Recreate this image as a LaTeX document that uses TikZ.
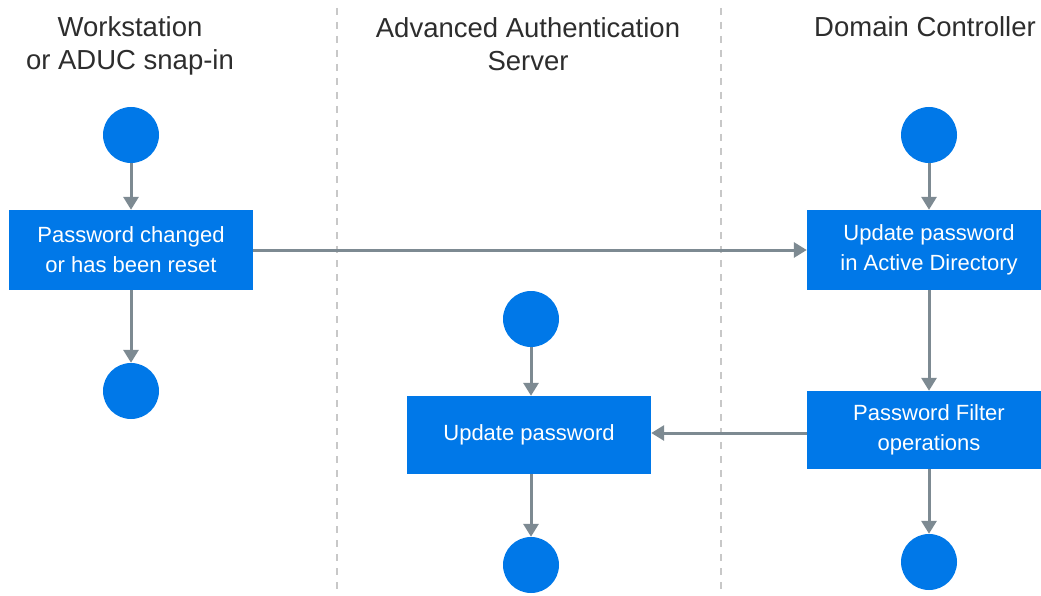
\documentclass[tikz,border=0pt]{standalone}
\usepackage{fontspec}
\setmainfont{Liberation Sans}
\usetikzlibrary{arrows.meta}
\definecolor{actblue}{RGB}{0,120,232}
\definecolor{flowgray}{RGB}{125,138,146}
\definecolor{lanegray}{RGB}{200,200,200}
\definecolor{headtext}{RGB}{45,45,45}
\tikzset{
  state/.style={circle,fill=actblue,minimum size=56pt,inner sep=0pt},
  actbox/.style={rectangle,fill=actblue,text=white,minimum width=244pt,minimum height=80pt,inner sep=0pt,align=center,font=\fontsize{22}{30}\selectfont},
  flow/.style={draw=flowgray,line width=3pt,-{Triangle[width=15pt,length=13pt]}},
  lane/.style={draw=lanegray,line width=1.5pt,dash pattern=on 7pt off 7pt},
  header/.style={text=headtext,align=center,font=\fontsize{27.5}{33}\selectfont}
}
\begin{document}
\begin{tikzpicture}[x=1pt,y=-1pt]
\useasboundingbox (0,0) rectangle (1041,596);
% lanes
\coordinate (l1t) at (337,8); \coordinate (l1b) at (337,596);
\coordinate (l2t) at (721,8); \coordinate (l2b) at (721,596);
\draw[lane] (l1t) -- (l1b);
\draw[lane] (l2t) -- (l2b);
% headers
\node[header] (h1) at (130,46) {Workstation\\or ADUC snap-in};
\node[header] (h2) at (528,44) {Advanced Authentication\\Server};
\node[header] (h3) at (925,27) {Domain Controller};
% left lane
\node[state] (s1) at (131,135) {};
\node[actbox] (a1) at (131,250) {Password changed\\or has been reset};
\node[state] (e1) at (131,391) {};
% right lane
\node[state] (s3) at (929,135) {};
\node[actbox] (a3) at (929,250) {Update password\\in Active Directory};
\node[actbox,minimum height=78pt] (a4) at (929,430) {Password Filter\\operations};
\node[state] (e3) at (929,562) {};
% middle lane
\node[state] (s2) at (531,319) {};
\node[actbox,minimum height=78pt] (a2) at (529,435) {Update password};
\node[state] (e2) at (531,565) {};
% flows
\draw[flow] (s1) -- (a1);
\draw[flow] (a1) -- (e1);
\draw[flow] (a1) -- (a3);
\draw[flow] (s3) -- (a3);
\draw[flow] (a3) -- (a4);
\draw[flow] (a4) -- (e3);
\draw[flow] (a4.west |- 0,433) -- (a2.east |- 0,433);
\draw[flow] (s2) -- (s2 |- a2.north);
\draw[flow] (s2 |- a2.south) -- (e2);
\end{tikzpicture}
\end{document}
